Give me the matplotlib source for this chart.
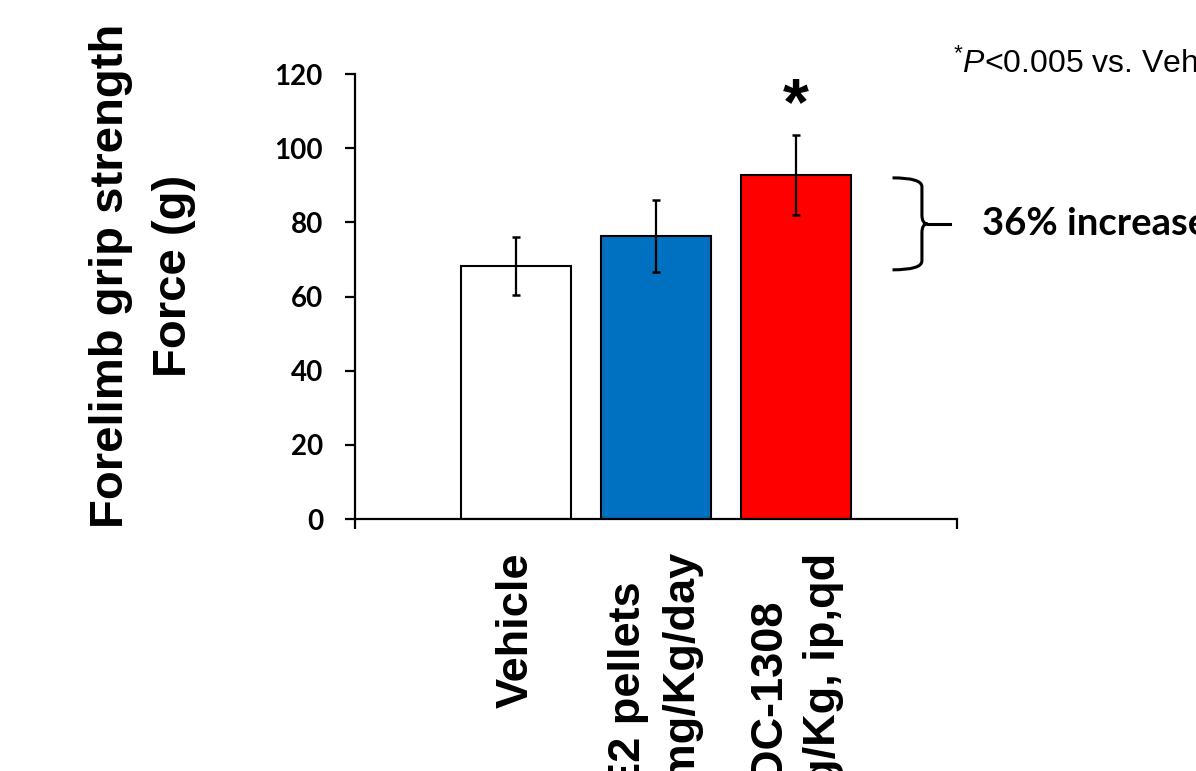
import matplotlib
matplotlib.use("Agg")
import matplotlib.pyplot as plt
from matplotlib.path import Path
from matplotlib.patches import PathPatch

groups = ["Vehicle", "E2 pellets\n5 mg/Kg/day", "DC-1308\nmg/Kg, ip,qd"]
means = [68.2, 76.3, 92.8]
sems = [7.8, 9.7, 10.7]
colors = ["white", "#0070C0", "#FF0000"]
yticks = [0, 20, 40, 60, 80, 100, 120]

plt.rcParams['mathtext.fontset'] = 'custom'
plt.rcParams['mathtext.rm'] = 'Liberation Sans'
plt.rcParams['mathtext.it'] = 'Liberation Sans:italic'

fig = plt.figure(figsize=(11.96, 7.71), dpi=100)
ax = fig.add_axes([0.2968, 0.3268, 0.5033, 0.5772])

x = list(range(len(groups)))
ax.bar(x, means, width=0.786, color=colors, edgecolor='black', linewidth=1.5, zorder=2)
ax.errorbar(x, means, yerr=sems, fmt='none', ecolor='black', elinewidth=1.6,
            capsize=2.6, capthick=1.8, zorder=3)

ax.set_xlim(-1.15, 3.15)
ax.set_ylim(0, 120)
for s in ['top', 'right']:
    ax.spines[s].set_visible(False)
for s in ['left', 'bottom']:
    ax.spines[s].set_linewidth(1.6)

ax.set_yticks(yticks)
ax.set_yticklabels([str(v) for v in yticks], fontfamily='Lato', fontweight='bold', fontsize=20)
ax.tick_params(axis='y', direction='out', length=7, width=1.6, pad=16)

ax.set_xticks(x)
ax.set_xticklabels(groups, rotation=90, fontfamily='Liberation Sans', fontweight='bold',
                   fontsize=32.5, va='top', ha='center', multialignment='center', linespacing=1.45)
ax.tick_params(axis='x', length=0, pad=24)
ax.set_xticks([-1.15, 3.15], minor=True)
ax.tick_params(axis='x', which='minor', direction='out', length=7, width=1.6)

# significance star
ax.text(2, 111, "*", ha='center', va='center', fontsize=48, fontweight='bold',
        fontfamily='Liberation Sans', clip_on=False)

# brace between vehicle and red bar
ytop, ybot = means[2] - 0.8, means[0] - 1.0
ymid = (ytop + ybot) / 2
x0, xv, xarm, r = 2.69, 2.9, 3.1, 2.4
verts = [(x0, ytop), (xv, ytop), (xv, ytop - r), (xv, ymid + r),
         (xv, ymid), (xv + 0.04, ymid), (xv, ymid), (xv, ymid - r),
         (xv, ybot + r), (xv, ybot), (x0, ybot)]
codes = [Path.MOVETO, Path.CURVE3, Path.CURVE3, Path.LINETO,
         Path.CURVE3, Path.CURVE3, Path.CURVE3, Path.CURVE3,
         Path.LINETO, Path.CURVE3, Path.CURVE3]
ax.add_patch(PathPatch(Path(verts, codes), facecolor='none', edgecolor='black',
                       linewidth=2.2, clip_on=False))
ax.plot([xv + 0.04, xarm], [ymid, ymid], color='black', linewidth=2.2, clip_on=False)
ax.text(3.33, ymid, "36% increase", ha='left', va='center', fontsize=27.5,
        fontfamily='Lato', fontweight='bold', clip_on=False)

fig.text(0.797, 0.916, r"$^{*}\it{P}$<0.005 vs. Vehicle", ha='left', va='center',
         fontsize=23, fontfamily='Liberation Sans')

fig.text(0.119, 1 - 276 / 771, "Forelimb grip strength\nForce (g)", rotation=90,
         ha='center', va='center', multialignment='center', fontsize=34,
         fontfamily='Liberation Sans', fontweight='bold', linespacing=1.57)

fig.savefig("out.png", dpi=100)
